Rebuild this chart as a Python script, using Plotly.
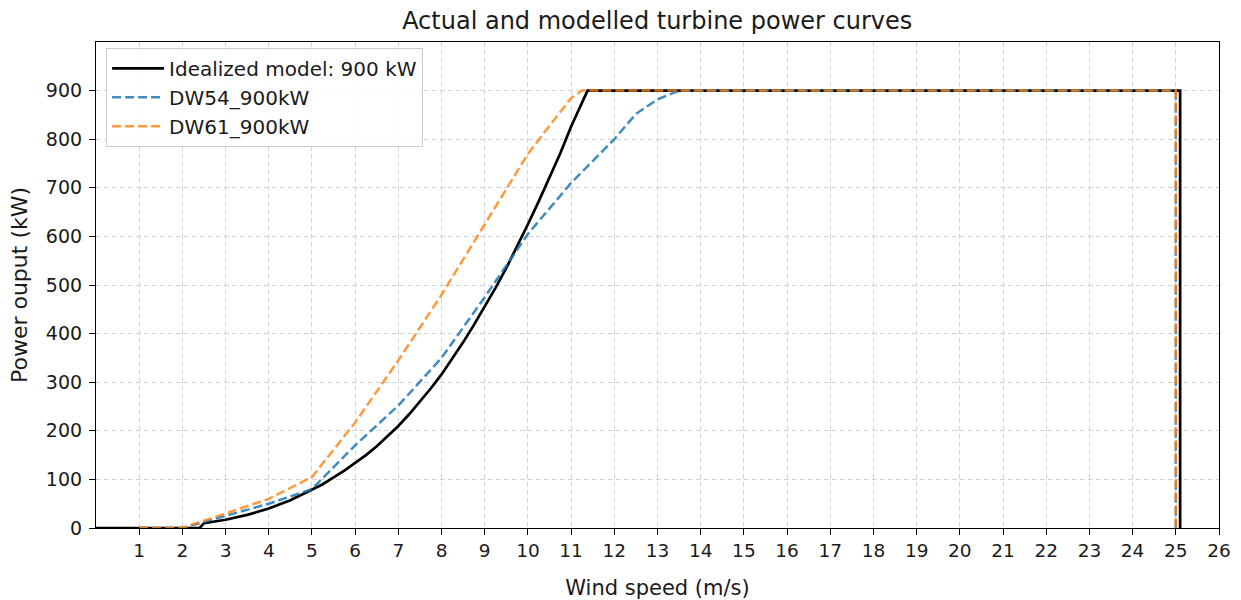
import plotly.graph_objects as go

# Idealized model: cubic rise from cut-in to rated 900 kW, cut-out just past 25 m/s
ideal_wind = [0, 2.4, 2.5, 3, 3.5, 4, 4.5, 5, 5.25, 5.5, 5.75, 6, 6.25, 6.5, 6.75,
              7, 7.25, 7.5, 7.75, 8, 8.25, 8.5, 8.75, 9, 9.25, 9.5, 9.75, 10,
              10.25, 10.5, 10.75, 11, 11.25, 11.38, 25.1, 25.1]
ideal_power = [0, 0, 10, 17, 27, 40, 57, 78, 90, 104, 118, 134, 150, 168, 188,
               210, 234, 260, 287, 316, 348, 382, 418, 455, 494, 535, 579, 625,
               672, 720, 771, 826, 876, 900, 900, 0]

# Manufacturer curve DW54_900kW
dw54_wind = [1, 2, 3, 4, 5, 6, 7, 8, 9, 10, 11, 12, 12.5, 13, 13.5, 25, 25]
dw54_power = [0, 0, 25, 50, 80, 170, 252, 350, 475, 605, 710, 800, 852, 882, 900, 900, 0]

# Manufacturer curve DW61_900kW
dw61_wind = [1, 2, 3, 4, 5, 6, 7, 8, 9, 10, 11, 11.25, 25, 25]
dw61_power = [0, 0, 30, 60, 105, 217, 345, 480, 625, 770, 885, 900, 900, 0]

x_ticks = list(range(1, 27))
y_ticks = list(range(0, 1000, 100))

FONT = "DejaVu Sans"
TEXT = "#1a1a1a"

fig = go.Figure()
fig.add_trace(go.Scatter(
    x=ideal_wind, y=ideal_power, mode="lines",
    name="Idealized model: 900 kW",
    line=dict(color="black", width=2.7),
))
fig.add_trace(go.Scatter(
    x=dw54_wind, y=dw54_power, mode="lines",
    name="DW54_900kW",
    line=dict(color="rgba(31,119,180,0.85)", width=2.5, dash="9px,4px"),
))
fig.add_trace(go.Scatter(
    x=dw61_wind, y=dw61_power, mode="lines",
    name="DW61_900kW",
    line=dict(color="rgba(255,127,14,0.8)", width=2.5, dash="9px,4px"),
))

axis_common = dict(
    showline=True, linecolor="black", linewidth=1.2, mirror=True,
    ticks="outside", ticklen=6, tickwidth=1.2, tickcolor="black",
    showgrid=True, gridcolor="#d4d4d4", gridwidth=1, griddash="5px,3px",
    zeroline=False,
)

fig.update_layout(
    width=1241, height=600,
    margin=dict(l=96, r=22, t=42, b=72),
    paper_bgcolor="white", plot_bgcolor="white",
    font=dict(family=FONT, color=TEXT),
    title=dict(
        text="Actual and modelled turbine power curves",
        x=0.5296, xanchor="center", y=0.965, yanchor="middle",
        font=dict(family=FONT, size=24, color=TEXT),
    ),
    xaxis=dict(
        range=[0, 26], tickmode="array", tickvals=x_ticks,
        tickfont=dict(family=FONT, size=18.5, color=TEXT),
        title=dict(text="Wind speed (m/s)", standoff=21,
                   font=dict(family=FONT, size=21, color=TEXT)),
        automargin=False,
        **axis_common,
    ),
    yaxis=dict(
        range=[0, 1000], tickmode="array", tickvals=y_ticks,
        tickfont=dict(family=FONT, size=19, color=TEXT),
        ticklabelstandoff=3,
        title=dict(text="Power ouput (kW)", standoff=12,
                   font=dict(family=FONT, size=22, color=TEXT)),
        automargin=False,
        **axis_common,
    ),
    legend=dict(
        x=0.009, y=0.988, xanchor="left", yanchor="top",
        bgcolor="rgba(255,255,255,0.85)", bordercolor="#cccccc", borderwidth=1,
        font=dict(family=FONT, size=20, color=TEXT),
        itemwidth=52, tracegroupgap=0,
    ),
    showlegend=True,
)

fig.write_html("out.html")
